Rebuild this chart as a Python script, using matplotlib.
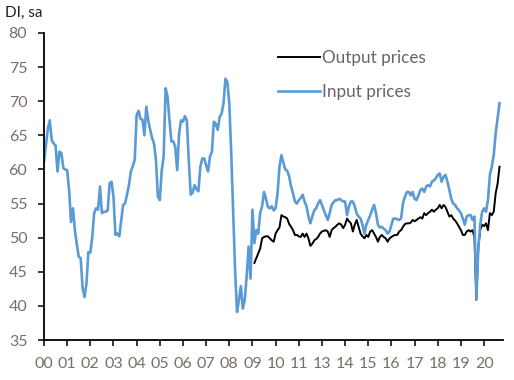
import numpy as np
import matplotlib.pyplot as plt

# monthly diffusion indices, first month = Jan 2000 (month index 0)
input_prices = [
    61.1, 63.5, 66.0, 67.2, 64.3, 63.8, 63.5, 59.7, 62.6, 62.4, 60.2, 60.0,
    59.9, 57.0, 52.3, 54.3, 51.1, 49.0, 47.2, 47.0, 42.6, 41.3, 43.3, 47.9,
    47.8, 50.1, 53.6, 54.3, 54.1, 57.5, 53.6, 53.8, 53.8, 54.0, 58.0, 58.2,
    56.0, 50.4, 50.6, 50.2, 52.5, 54.8, 55.0, 56.3, 57.7, 59.7, 60.5, 61.4,
    68.0, 68.6, 67.4, 67.3, 65.0, 69.2, 67.2, 65.8, 64.6, 63.8, 61.4, 56.0,
    55.5, 59.9, 61.9, 71.9, 70.7, 67.2, 64.1, 64.1, 63.3, 59.9, 65.3, 67.2,
    67.0, 67.8, 67.2, 61.4, 56.3, 56.6, 57.7, 57.1, 56.8, 60.4, 61.6, 61.6,
    60.6, 59.7, 61.9, 62.6, 67.0, 66.7, 65.8, 67.7, 68.2, 69.7, 73.3, 72.8,
    69.7, 62.4, 53.6, 45.3, 39.1, 40.9, 42.9, 39.6, 40.9, 44.3, 48.7, 44.0,
    54.1, 49.2, 51.1, 50.6, 53.6, 54.6, 56.7, 55.7, 54.5, 54.3, 54.6, 54.0,
    54.3, 56.5, 60.4, 62.1, 61.0, 60.0, 59.8, 59.0, 57.5, 56.5, 55.3, 55.0,
    55.5, 55.8, 56.3, 55.3, 54.6, 53.1, 52.1, 53.1, 54.0, 54.3, 55.0, 55.5,
    54.8, 54.0, 53.3, 52.6, 53.6, 54.8, 55.2, 55.5, 55.5, 55.7, 55.5, 55.3,
    55.3, 53.3, 54.6, 55.3, 55.3, 54.6, 53.5, 53.1, 52.8, 51.9, 50.6, 51.9,
    52.6, 53.3, 54.1, 54.8, 53.6, 51.9, 51.5, 51.6, 51.3, 51.1, 50.6, 50.9,
    51.9, 52.8, 52.8, 52.7, 52.6, 52.8, 55.1, 56.0, 56.7, 56.7, 56.2, 56.7,
    55.7, 55.5, 56.2, 57.0, 57.2, 56.7, 57.5, 57.7, 57.5, 58.2, 58.4, 58.7,
    59.2, 59.4, 58.2, 58.9, 59.2, 58.2, 57.0, 55.7, 55.0, 54.8, 54.3, 54.0,
    53.6, 52.8, 51.9, 53.1, 53.3, 53.3, 52.6, 53.1, 41.0, 48.5, 51.9, 53.8,
    54.3, 53.8, 55.5, 59.2, 60.4, 62.1, 65.3, 67.5, 69.7,
]

output_start = 109
output_prices = [
    46.3, 47.0, 47.7, 48.4, 49.9, 50.1, 50.2, 50.2, 49.9, 49.6, 49.4,
    50.6, 51.1, 51.5, 53.3, 53.1, 53.0, 52.8, 52.0, 51.6, 51.1, 50.4, 50.4,
    50.2, 50.1, 50.6, 50.1, 50.6, 49.9, 48.8, 49.1, 49.6, 49.8, 50.1, 50.6,
    50.9, 51.0, 51.1, 50.9, 50.1, 51.1, 51.4, 51.6, 51.9, 52.1, 51.9, 51.4,
    51.9, 52.8, 52.4, 52.1, 50.9, 51.9, 52.6, 51.6, 50.6, 50.2, 49.9, 50.4,
    50.1, 50.9, 51.1, 50.6, 50.1, 49.4, 50.1, 50.4, 50.1, 49.9, 49.4, 49.9,
    50.1, 50.3, 50.4, 50.4, 50.9, 51.1, 51.6, 52.0, 52.1, 52.1, 52.2, 52.6,
    52.4, 52.6, 52.8, 53.0, 52.8, 53.6, 53.3, 53.6, 53.8, 54.1, 53.8, 54.1,
    54.3, 54.8, 54.3, 54.8, 54.5, 53.8, 53.1, 53.3, 52.8, 52.5, 52.1, 51.6,
    51.1, 50.4, 50.4, 50.9, 51.1, 50.9, 51.1, 50.1, 40.9, 48.6, 51.1, 51.9,
    51.7, 52.1, 51.1, 53.6, 53.3, 53.8, 56.5, 57.9, 60.4,
]

year_labels = ['00', '01', '02', '03', '04', '05', '06', '07', '08', '09',
               '10', '11', '13', '14', '15', '16', '17', '18', '19', '20']

label_col = '#7a6e66'
legend_col = '#65646a'
plt.rcParams['font.family'] = ['Lato', 'DejaVu Sans']

fig = plt.figure(figsize=(5.14, 3.80), dpi=100)
ax = fig.add_axes([44 / 514, 40 / 380, 459 / 514, 307 / 380])

x_in = np.arange(len(input_prices))
x_out = np.arange(len(output_prices)) + output_start

ax.plot(x_out, output_prices, color='black', lw=1.4, label='Output prices')
ax.plot(x_in, input_prices, color='#5b9bd5', lw=1.9, label='Input prices')

ax.set_xlim(0, 237.8)
ax.set_ylim(35, 80)
ax.set_yticks(range(35, 81, 5))
ax.set_xticks(np.arange(len(year_labels)) * 12)
ax.set_xticklabels(year_labels)

for s in ['top', 'right']:
    ax.spines[s].set_visible(False)
for s in ['left', 'bottom']:
    ax.spines[s].set_linewidth(1.3)
ax.tick_params(axis='both', direction='out', length=4, width=1.1,
               labelsize=11.5, labelcolor=label_col)
ax.tick_params(axis='y', pad=8)
ax.tick_params(axis='x', pad=8)

fig.text(5 / 514, 1 - 13 / 380, 'DI, sa', fontsize=11, va='center',
         color='#222222')

ax.legend(loc='upper left', bbox_to_anchor=(278 / 514, 1 - 50 / 380),
          bbox_transform=fig.transFigure, frameon=False, fontsize=12.3,
          handlelength=2.45, handletextpad=0.15, labelspacing=1.05,
          borderpad=0, borderaxespad=0, labelcolor=legend_col)

fig.savefig('out.png', dpi=100)
